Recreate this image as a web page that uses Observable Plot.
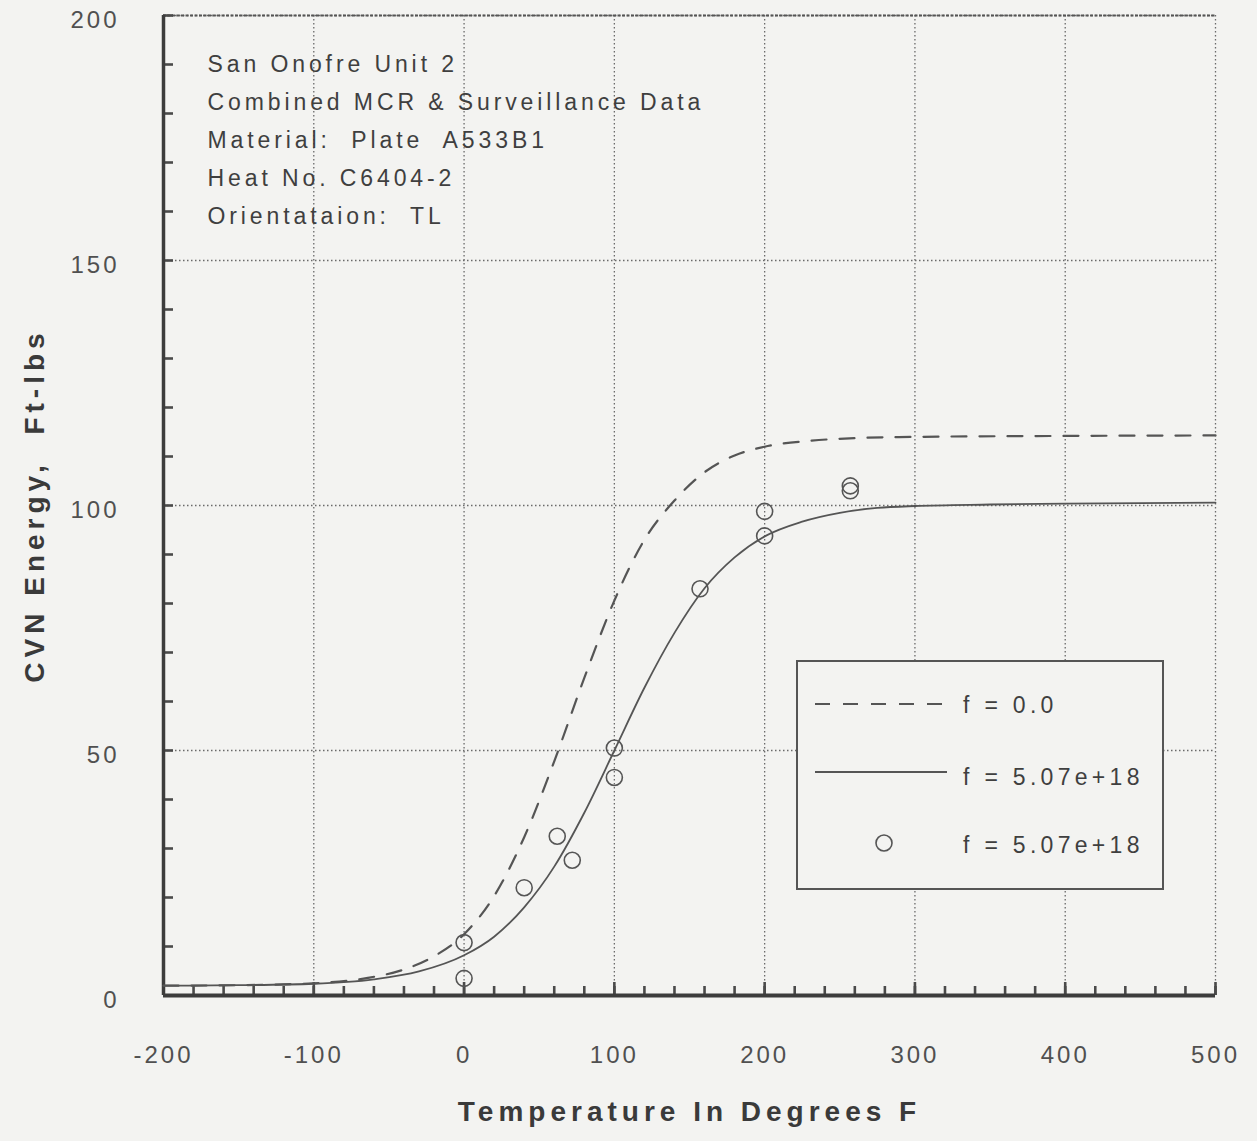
<!DOCTYPE html>
<html><head><meta charset="utf-8">
<script src="https://cdn.jsdelivr.net/npm/d3@7"></script>
<script src="https://cdn.jsdelivr.net/npm/@observablehq/plot@0.6"></script>
<style>
html,body{margin:0;padding:0;background:#f3f3f1;}
#wrap{position:relative;width:1257px;height:1141px;overflow:hidden;}
#legend{position:absolute;left:796px;top:660px;}
</style></head><body><div id="wrap"></div>
<script>
// ---- data ----
const xTicks = [-200, -100, 0, 100, 200, 300, 400, 500];
const yTicks = [0, 50, 100, 150, 200];
const xMinorTicks = [-200,-180,-160,-140,-120,-100,-80,-60,-40,-20,0,20,40,60,80,100,120,140,160,180,200,220,240,260,280,300,320,340,360,380,400,420,440,460,480,500];
const yMinorTicks = [0,10,20,30,40,50,60,70,80,90,100,110,120,130,140,150,160,170,180,190,200];

// f = 0.0 (dashed fit)
const dashedT = [-200, -150, -100, -64, -40, -20, 0, 20, 40, 60, 80, 100, 120, 140, 160, 180, 200, 230, 265, 300, 400, 500];
const dashedV = [2.0, 2.1, 2.5, 3.6, 5.3, 8.0, 12.5, 20.3, 32.3, 47.8, 64.8, 80.6, 93.0, 101.0, 106.8, 110.2, 112.0, 113.2, 113.8, 114.0, 114.2, 114.3];

// f = 5.07e+18 (solid fit)
const solidT = [-200, -150, -100, -60, -30, 0, 20, 40, 60, 80, 100, 120, 140, 160, 180, 200, 225, 250, 275, 300, 350, 400, 500];
const solidV = [2.0, 2.1, 2.4, 3.3, 4.9, 8.2, 12.0, 18.0, 26.3, 37.3, 50.0, 62.8, 74.0, 83.1, 89.4, 93.7, 96.7, 98.5, 99.5, 99.9, 100.2, 100.4, 100.6];

// f = 5.07e+18 (measured points)
const pointT = [0, 0, 40, 62, 72, 100, 100, 157, 200, 200, 257, 257];
const pointV = [10.8, 3.5, 22, 32.5, 27.6, 50.5, 44.5, 83, 98.8, 93.8, 104, 103];

const annotationLines = ["San Onofre Unit 2", "Combined MCR & Surveillance Data", "Material:  Plate  A533B1", "Heat No. C6404-2", "Orientataion:  TL"];
const xTitle = "Temperature In Degrees F";
const yTitle = "CVN Energy,  Ft-lbs";
const legendLabels = ["f = 0.0", "f = 5.07e+18", "f = 5.07e+18"];

// ---- tables ----
const dashed = dashedT.map((t, i) => ({t, v: dashedV[i]}));
const solid = solidT.map((t, i) => ({t, v: solidV[i]}));
const points = pointT.map((t, i) => ({t, v: pointV[i]}));

const ink = "#4a4a4a";
const bg = "#f3f3f1";
const font = "'Liberation Sans', Arial, sans-serif";

const chart = Plot.plot({
  width: 1257, height: 1141,
  marginLeft: 163, marginRight: 42, marginTop: 15, marginBottom: 146,
  x: {domain: [-200, 500]},
  y: {domain: [0, 200]},
  style: {background: bg, fontFamily: font, color: "#555", letterSpacing: "3px", overflow: "visible"},
  marks: [
    Plot.gridX(xTicks, {stroke: "#6a6a6a", strokeOpacity: 1, strokeDasharray: "1.5,2.5", strokeWidth: 1.3}),
    Plot.gridY(yTicks, {stroke: "#6a6a6a", strokeOpacity: 1, strokeDasharray: "1.5,2.5", strokeWidth: 1.3}),
    Plot.ruleY([200], {stroke: "#555", strokeDasharray: "3,1.5", strokeWidth: 1.8}),
    Plot.axisX(xMinorTicks, {tickSize: -9, tickFormat: () => "", stroke: ink, strokeWidth: 2.6, label: null}),
    Plot.axisX(xTicks, {tickSize: -13, tickFormat: () => "", stroke: ink, strokeWidth: 2.6, label: null}),
    Plot.axisX(xTicks, {tickSize: 0, tickPadding: 50, fontSize: 24, fill: "#505050", label: null, tickFormat: d => String(d)}),
    Plot.axisY(yMinorTicks, {tickSize: -10, tickFormat: () => "", stroke: ink, strokeWidth: 2.6, label: null}),
    Plot.axisY(yTicks, {tickSize: 0, tickPadding: 44, fontSize: 24, fill: "#505050", dy: 5, label: null}),
    Plot.ruleX([-200], {stroke: "#3c3c3c", strokeWidth: 3.5}),
    Plot.ruleY([0], {stroke: "#3c3c3c", strokeWidth: 4}),
    Plot.line(dashed, {x: "t", y: "v", curve: "monotone-x", stroke: "#555", strokeWidth: 2.2, strokeDasharray: "15,13"}),
    Plot.line(solid, {x: "t", y: "v", curve: "monotone-x", stroke: "#555", strokeWidth: 1.8}),
    Plot.dot(points, {x: "t", y: "v", r: 8, stroke: "#555", strokeWidth: 1.6, fill: "none"}),
    Plot.text([annotationLines.join("\n")], {frameAnchor: "top-left", dx: 44, dy: 29, lineAnchor: "top", lineHeight: 1.66, fontSize: 23, fill: "#3f3f3f", textAnchor: "start"}),
    Plot.text([xTitle], {frameAnchor: "bottom", dy: 125, fontSize: 28, fontWeight: "bold", fill: "#3a3a3a", textAnchor: "middle"}),
    Plot.text([yTitle], {frameAnchor: "left", dx: -128, rotate: -90, fontSize: 28, fontWeight: "bold", fill: "#3a3a3a", textAnchor: "middle"})
  ]
});
document.getElementById("wrap").appendChild(chart);

// titles and annotation get their own letter spacing
d3.select(chart).selectAll("text").filter(function() { return this.textContent === xTitle || this.textContent === yTitle; })
  .style("letter-spacing", "5px");
d3.select(chart).selectAll("text").filter(function() { return this.textContent === annotationLines.join(""); })
  .style("letter-spacing", "3.9px");

// ---- legend (inside the plot area, opaque box) ----
const lg = d3.select("#wrap").append("svg").attr("id", "legend")
  .attr("width", 370).attr("height", 232)
  .style("font-family", font)
  .style("letter-spacing", "4.3px");
lg.append("rect").attr("x", 1).attr("y", 1).attr("width", 366).attr("height", 228)
  .attr("fill", bg).attr("stroke", "#555").attr("stroke-width", 2);
const rows = [
  {kind: "dashed", y: 44, ty: 45},
  {kind: "solid", y: 112, ty: 117},
  {kind: "dot", y: 183, ty: 185}
];
rows.forEach((r, i) => {
  if (r.kind === "dot") {
    lg.append("circle").attr("cx", 88).attr("cy", r.y).attr("r", 8)
      .attr("fill", "none").attr("stroke", "#555").attr("stroke-width", 1.6);
  } else {
    lg.append("line").attr("x1", 19).attr("x2", 151).attr("y1", r.y).attr("y2", r.y)
      .attr("stroke", "#555").attr("stroke-width", r.kind === "dashed" ? 2.2 : 1.8)
      .attr("stroke-dasharray", r.kind === "dashed" ? "15,13" : null);
  }
  lg.append("text").attr("x", 167).attr("y", r.ty).attr("dy", "0.35em")
    .attr("font-size", 23).attr("fill", "#3f3f3f").text(legendLabels[i]);
});
</script></body></html>
